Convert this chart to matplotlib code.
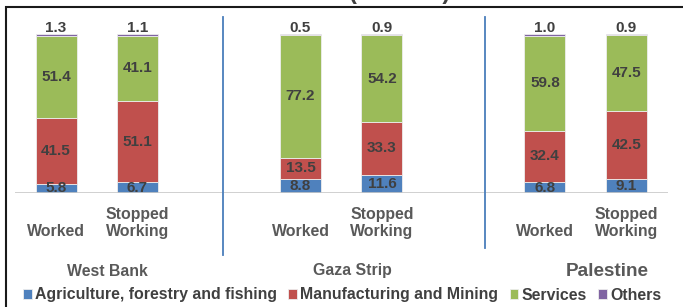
import matplotlib
matplotlib.use("Agg")
import matplotlib.pyplot as plt
from matplotlib.patches import Rectangle
import numpy as np

plt.rcParams['font.family'] = ['Liberation Sans', 'DejaVu Sans']
plt.rcParams['font.weight'] = 'bold'

groups = ["West Bank", "Gaza Strip", "Palestine"]
statuses = ["Worked", "Stopped\nWorking"]
series_names = ["Agriculture, forestry and fishing", "Manufacturing and Mining", "Services", "Others"]
agri = [5.8, 6.7, 8.8, 11.6, 6.8, 9.1]
manuf = [41.5, 51.1, 13.5, 33.3, 32.4, 42.5]
services = [51.4, 41.1, 77.2, 54.2, 59.8, 47.5]
others = [1.3, 1.1, 0.5, 0.9, 1.0, 0.9]
colors = ["#4F81BD", "#C0504D", "#9BBB59", "#8064A2"]

W, H = 683, 307
fig = plt.figure(figsize=(W/100, H/100), dpi=100)

# axes: pixel mapping px = 56 + 81.5*x ; y=0 at 193px, 100 at 34px
unit = 81.5
x0px = 56
ax_left, ax_right = 15, 668
ax_top, ax_bottom = 14, 193
scale = (193 - 34) / 100.0
ax = fig.add_axes([ax_left / W, 1 - ax_bottom / H, (ax_right - ax_left) / W, (ax_bottom - ax_top) / H])
ax.set_xlim((ax_left - x0px) / unit, (ax_right - x0px) / unit)
ax.set_ylim(0, (ax_bottom - ax_top) / scale)
ax.axis('off')

xpos = np.array([0, 1, 3, 4, 6, 7], dtype=float)
series = [agri, manuf, services, others]
bottom = np.zeros(len(xpos))
bw = 41 / unit
for i, (vals, c) in enumerate(zip(series, colors)):
    vals = np.array(vals)
    ax.bar(xpos, vals, bw, bottom=bottom, color=c, edgecolor='#EDEDED', linewidth=0.6,
           label=series_names[i], zorder=2)
    for xp, v, b in zip(xpos, vals, bottom):
        if i < 3:
            ax.text(xp, b + v / 2, f"{v:.1f}", ha='center', va='center', fontsize=11,
                    color='#404040', fontweight='bold', zorder=4)
        else:
            ax.text(xp, b + v + 3.6, f"{v:.1f}", ha='center', va='center', fontsize=11,
                    color='#404040', fontweight='bold', zorder=4)
    bottom = bottom + vals

ax.axhline(0, color='#C8C8C8', linewidth=1.2, zorder=3)

# category labels
for xp, s in zip(xpos, statuses * 3):
    fx = (x0px + unit * xp) / W
    if "\n" in s:
        fig.text(fx, 1 - 223 / H, s, ha='center', va='center', fontsize=11.4,
                 color='#595959', fontweight='bold', linespacing=1.1)
    else:
        fig.text(fx, 1 - 232 / H, s, ha='center', va='center', fontsize=11.4,
                 color='#595959', fontweight='bold')

# group labels
gl = [(107, 11.4), (352, 11.4), (607, 13.6)]
for g, (gx, fs) in zip(groups, gl):
    fig.text(gx / W, 1 - 271 / H, g, ha='center', va='center', fontsize=fs,
             color='#595959', fontweight='bold')

# separators
for sx, y1, y2 in [(223, 17, 255), (485, 17, 248)]:
    fig.add_artist(plt.Line2D([sx / W, sx / W], [1 - y1 / H, 1 - y2 / H],
                              color='#4A7EBB', linewidth=1.3))

# frame
fig.add_artist(Rectangle((6 / W, -0.1), 1.2, 1.1 - 7 / H, fill=False,
                         edgecolor='#1a1a1a', linewidth=1.5, transform=fig.transFigure))

# cut-off title
fig.text(400 / W, 1 + 1.0 / H, "(Percent)", ha='center', va='baseline', fontsize=17,
         color='#404040', fontweight='bold')

# legend
handles, labels = ax.get_legend_handles_labels()
leg = fig.legend(handles, labels, loc='center left', bbox_to_anchor=(23 / W, 1 - 295 / H),
                 ncol=4, frameon=False, fontsize=11.4, handlelength=0.55, handleheight=0.55,
                 handletextpad=0.2, columnspacing=0.72, borderaxespad=0, borderpad=0)
for t in leg.get_texts():
    t.set_color('#404040')

fig.savefig("out.png", dpi=100)
